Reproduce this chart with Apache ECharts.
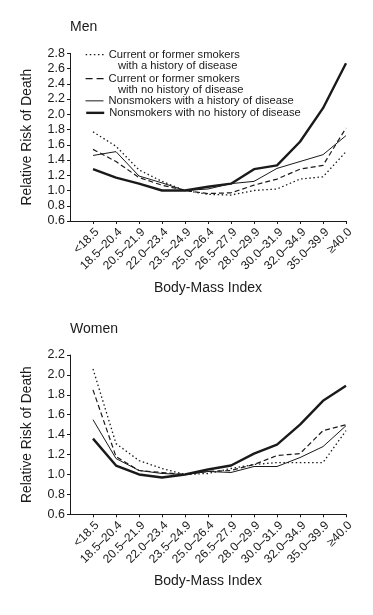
<!DOCTYPE html>
<html><head><meta charset="utf-8">
<script src="https://cdn.jsdelivr.net/npm/echarts@6/dist/echarts.min.js"></script>
<style>html,body{margin:0;padding:0;background:#fff}#c{width:373px;height:615px}</style>
</head><body><div id="c"></div>
<script>
const categories = ['<18.5','18.5–20.4','20.5–21.9','22.0–23.4','23.5–24.9','25.0–26.4','26.5–27.9','28.0–29.9','30.0–31.9','32.0–34.9','35.0–39.9','≥40.0'];
const seriesNames = [
  'Current or former smokers with a history of disease',
  'Current or former smokers with no history of disease',
  'Nonsmokers with a history of disease',
  'Nonsmokers with no history of disease'
];
const legendLines = [
  'Current or former smokers\n   with a history of disease',
  'Current or former smokers\n   with no history of disease',
  'Nonsmokers with a history of disease',
  'Nonsmokers with no history of disease'
];
// Men
const menSmokersDisease   = [1.77,1.58,1.27,1.12,1.00,0.95,0.94,1.00,1.02,1.15,1.18,1.51];
const menSmokersNoDisease = [1.54,1.38,1.17,1.07,1.00,0.96,0.97,1.07,1.15,1.28,1.33,1.82];
const menNonDisease       = [1.46,1.51,1.19,1.10,1.00,1.02,1.09,1.12,1.29,1.38,1.47,1.72];
const menNonNoDisease     = [1.28,1.17,1.09,1.00,1.00,1.05,1.09,1.28,1.33,1.64,2.08,2.67];
// Women
const womenSmokersDisease   = [2.06,1.31,1.14,1.06,1.00,1.01,1.06,1.10,1.12,1.12,1.12,1.44];
const womenSmokersNoDisease = [1.85,1.18,1.04,1.02,1.00,1.03,1.04,1.10,1.19,1.21,1.44,1.50];
const womenNonDisease       = [1.55,1.16,1.04,1.01,1.00,1.03,1.02,1.08,1.08,1.17,1.28,1.49];
const womenNonNoDisease     = [1.36,1.09,1.00,0.97,1.00,1.05,1.09,1.21,1.30,1.50,1.74,1.89];
const menYTicks = {min:0.6, max:2.8, step:0.2};
const womenYTicks = {min:0.6, max:2.2, step:0.2};

const FONT = "'Liberation Sans', Arial, sans-serif";
const INK = '#1a1a1a';
const styles = [
  {type:[1.5,2.6], width:1.3, legendType:[1.5,2.6]},
  {type:[5,3], width:1.2, legendType:[7,4]},
  {type:'solid', width:1, legendType:'solid'},
  {type:'solid', width:2.4, legendType:'solid'}
];

function xAxis(gi){
  return {
    type:'category', gridIndex:gi, boundaryGap:false,
    data:[''].concat(categories),
    axisLine:{lineStyle:{color:INK,width:1}},
    axisTick:{length:3, interval:(i)=>i>0, lineStyle:{color:INK}},
    axisLabel:{interval:0, rotate:45, margin:5, verticalAlign:'top', color:INK, fontFamily:FONT, fontSize:12},
    name:'Body-Mass Index', nameLocation:'middle', nameGap:60,
    nameTextStyle:{color:INK, fontFamily:FONT, fontSize:14}
  };
}
function yAxis(gi, t){
  return {
    type:'value', gridIndex:gi, min:t.min, max:t.max, interval:t.step,
    splitLine:{show:false},
    axisLine:{show:true, lineStyle:{color:INK,width:1}},
    axisTick:{show:true, length:3, lineStyle:{color:INK}},
    axisLabel:{margin:5, color:INK, fontFamily:FONT, fontSize:12.5, formatter:v=>v.toFixed(1)},
    name:'Relative Risk of Death', nameLocation:'middle', nameGap:36, nameRotate:90,
    nameTextStyle:{color:INK, fontFamily:FONT, fontSize:13.8}
  };
}
function mk(gi, idx, vals){
  return {
    type:'line', name:seriesNames[idx], xAxisIndex:gi, yAxisIndex:gi,
    data:[null].concat(vals), symbol:'none', silent:true,
    itemStyle:{color:INK},
    lineStyle:{color:INK, type:styles[idx].type, width:styles[idx].width}
  };
}
const legendTops = [37, 61, 95, 107];
const legends = seriesNames.map((n,i)=>({
  data:[n], left:85, top:legendTops[i], padding:0,
  itemWidth:18, itemHeight:10, selectedMode:false,
  itemStyle:{opacity:0},
  lineStyle:{color:INK, width:styles[i].width, type:styles[i].legendType},
  formatter:()=> (i<2 ? '\n' : '') + legendLines[i],
  textStyle:{color:INK, fontFamily:FONT, fontSize:11.2, lineHeight:11.7}
}));

const chart = echarts.init(document.getElementById('c'), null, {renderer:'canvas'});
chart.setOption({
  animation:false,
  backgroundColor:'#fff',
  title:[
    {text:'Men', left:70, top:20, padding:0, textStyle:{color:INK, fontFamily:FONT, fontSize:14, fontWeight:'normal'}},
    {text:'Women', left:70, top:322, padding:0, textStyle:{color:INK, fontFamily:FONT, fontSize:14, fontWeight:'normal'}}
  ],
  legend:legends,
  grid:[
    {left:70, right:27, top:53.3, bottom:394, containLabel:false},
    {left:70, right:27, top:355, bottom:100.7, containLabel:false}
  ],
  xAxis:[xAxis(0), xAxis(1)],
  yAxis:[yAxis(0, menYTicks), yAxis(1, womenYTicks)],
  series:[
    mk(0,0,menSmokersDisease), mk(0,1,menSmokersNoDisease), mk(0,2,menNonDisease), mk(0,3,menNonNoDisease),
    mk(1,0,womenSmokersDisease), mk(1,1,womenSmokersNoDisease), mk(1,2,womenNonDisease), mk(1,3,womenNonNoDisease)
  ]
});
</script></body></html>
